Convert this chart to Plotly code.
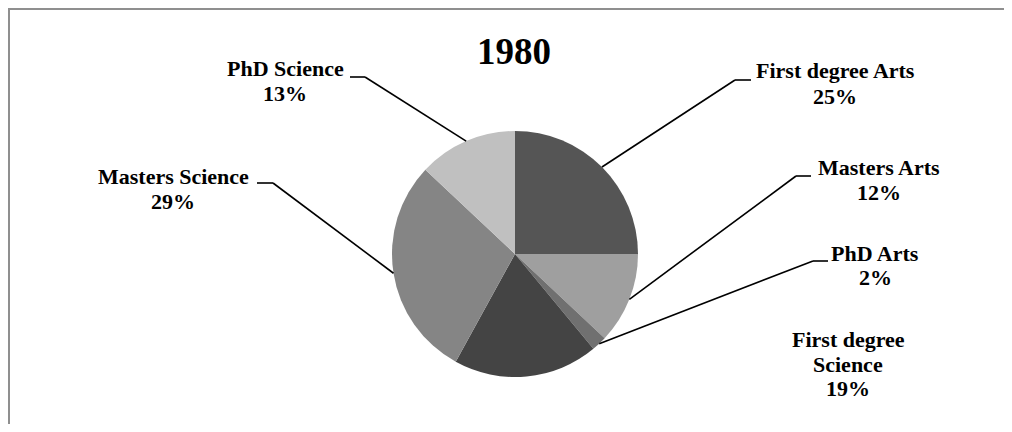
import math
import plotly.graph_objects as go

# ---- data ----
labels = ["First degree Arts", "Masters Arts", "PhD Arts",
          "First degree Science", "Masters Science", "PhD Science"]
values = [25, 12, 2, 19, 29, 13]
title_text = "1980"

# ---- style / layout constants ----
colors = ["#555555", "#9f9f9f", "#707070", "#444444", "#858585", "#c0c0c0"]
PAGE_MARGIN = 8                     # default body margin of the html page
W, H = 1012 - 2 * PAGE_MARGIN, 432 - 2 * PAGE_MARGIN
ML, MT = 2, 2                       # grey paper strip = chart border (top / left)
PW, PH = W - ML, H - MT             # plot-area size
CX, CY, R = 515, 254, 123           # screen coordinates
FONT = "Liberation Serif"
LABEL_SIZE = 22

# label placement (screen px): centre x, baselines, wrapped name lines, leader elbow (x_start, x_end, y)
label_layout = {
    "First degree Arts":    dict(cx=835, base=[78, 103], lines=["First degree Arts"], elbow=(735, 751, 80)),
    "Masters Arts":         dict(cx=879, base=[175, 200], lines=["Masters Arts"], elbow=(796, 811, 176)),
    "PhD Arts":             dict(cx=875, base=[260, 284], lines=["PhD Arts"], elbow=(813, 828, 261)),
    "First degree Science": dict(cx=848, base=[346, 371, 395], lines=["First degree", "Science"], elbow=None),
    "Masters Science":      dict(cx=173, base=[183, 208], lines=["Masters Science"], elbow=(257, 273, 183)),
    "PhD Science":          dict(cx=285, base=[76, 100], lines=["PhD Science"], elbow=(350, 365, 77)),
}


def px(x):
    return (x - PAGE_MARGIN - ML) / PW


def py(y):
    return 1 - (y - PAGE_MARGIN - MT) / PH


fig = go.Figure()
# empty cartesian subplot so the white plot area is painted over the grey paper
fig.add_trace(go.Scatter(x=[], y=[], showlegend=False, hoverinfo="skip"))
fig.add_trace(go.Pie(
    labels=labels,
    values=values,
    sort=False,
    direction="clockwise",
    rotation=0,
    marker=dict(colors=colors, line=dict(width=0)),
    textinfo="none",
    hoverinfo="label+percent",
    showlegend=False,
    domain=dict(x=[px(CX - R), px(CX + R)], y=[py(CY + R), py(CY - R)]),
))

shapes = []
annotations = []

total = sum(values)
cum = 0
for lab, val in zip(labels, values):
    mid = (cum + val / 2) / total
    cum += val
    ang = 2 * math.pi * mid  # clockwise from top
    ex = CX + R * math.sin(ang)
    ey = CY - R * math.cos(ang)
    L = label_layout[lab]
    pct = f"{round(100 * val / total)}%"
    lines = L["lines"] + [pct]
    for t, b in zip(lines, L["base"]):
        annotations.append(dict(
            x=px(L["cx"]), y=py(b - 7), xref="paper", yref="paper",
            text=f"<b>{t}</b>", showarrow=False, xanchor="center", yanchor="middle",
            font=dict(family=FONT, size=LABEL_SIZE, color="#000000"),
        ))
    if L["elbow"] is not None:
        xs, xe, yy = L["elbow"]
        near = xs if ex < xs else xe  # diagonal joins the elbow end nearer the pie
        shapes.append(dict(type="line", xref="paper", yref="paper",
                           x0=px(ex), y0=py(ey), x1=px(near), y1=py(yy),
                           line=dict(color="#000000", width=1.6)))
        shapes.append(dict(type="line", xref="paper", yref="paper",
                           x0=px(xs), y0=py(yy), x1=px(xe), y1=py(yy),
                           line=dict(color="#000000", width=1.6)))

annotations.append(dict(
    x=px(514), y=py(63 - 12), xref="paper", yref="paper",
    text=f"<b>{title_text}</b>", showarrow=False, xanchor="center", yanchor="middle",
    font=dict(family=FONT, size=37, color="#000000"),
))

fig.update_layout(
    width=W, height=H,
    margin=dict(l=ML, r=0, t=MT, b=0, pad=0),
    paper_bgcolor="#8f8f8f", plot_bgcolor="white",
    xaxis=dict(visible=False, fixedrange=True),
    yaxis=dict(visible=False, fixedrange=True),
    shapes=shapes, annotations=annotations,
)

fig.write_html("out.html")
